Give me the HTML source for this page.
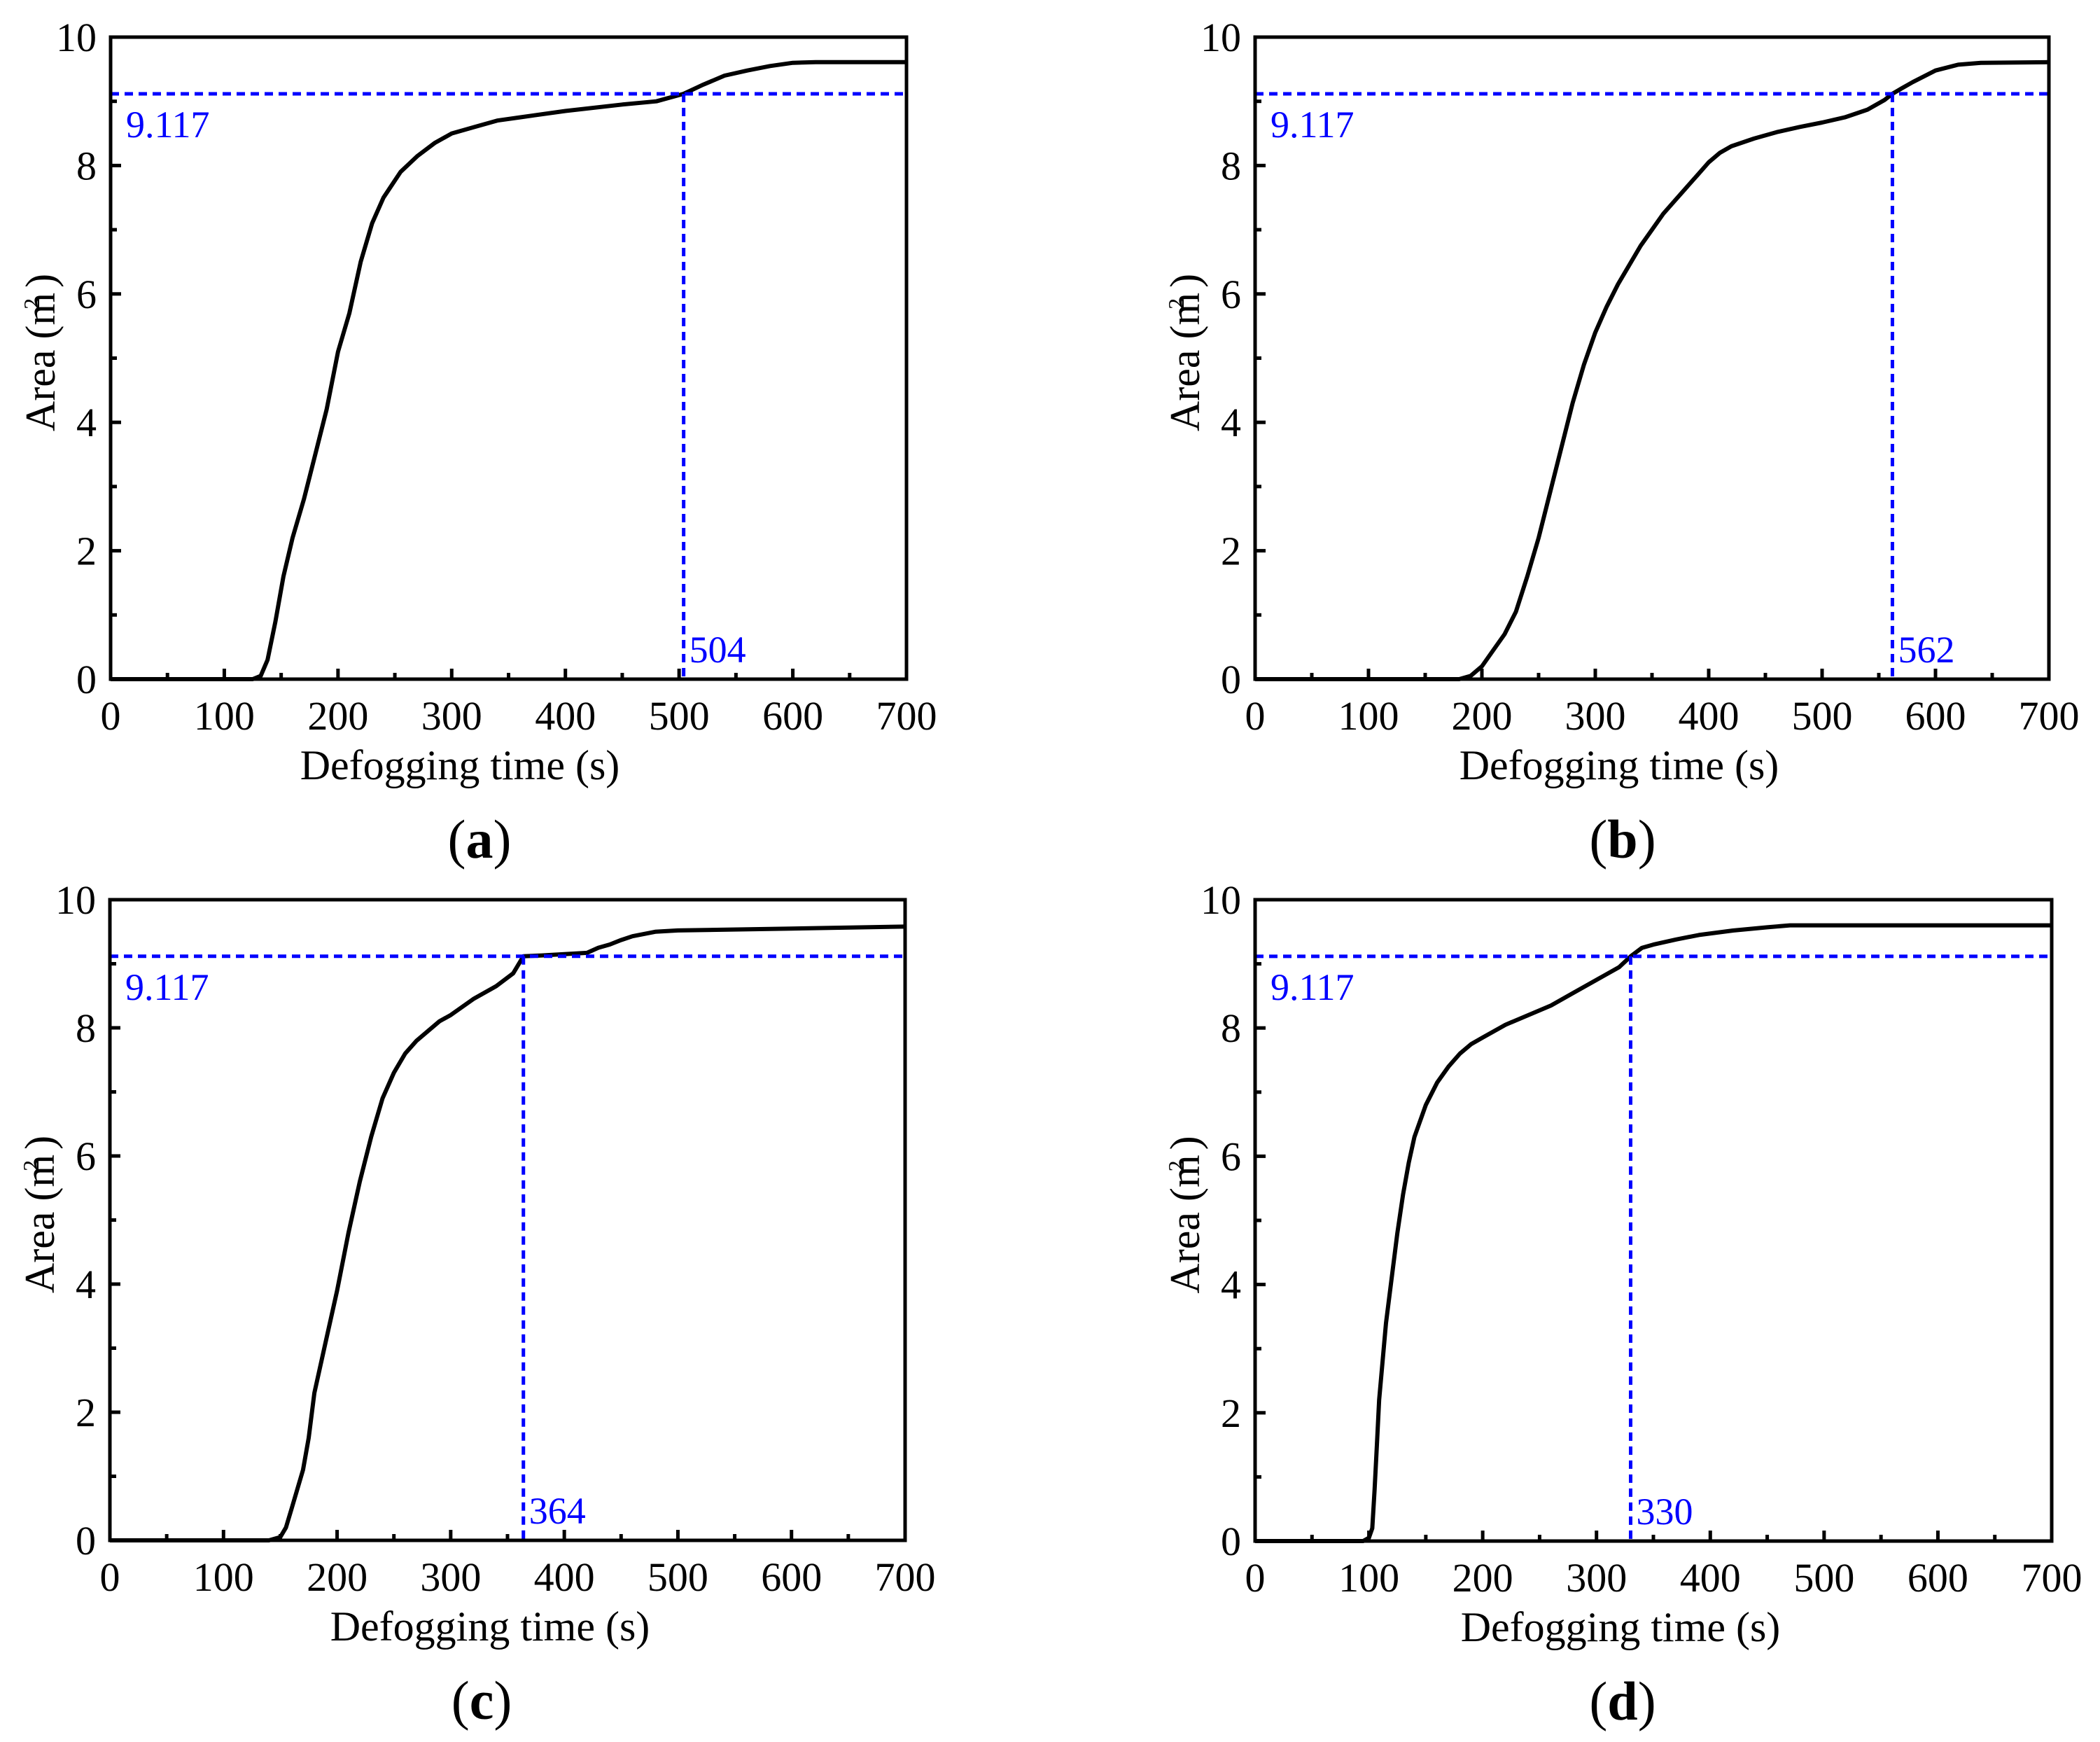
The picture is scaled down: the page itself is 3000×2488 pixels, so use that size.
<!DOCTYPE html>
<html><head><meta charset="utf-8"><style>
html,body{margin:0;padding:0;background:#fff;}
svg{display:block;font-family:"Liberation Serif",serif;}
</style></head><body>
<svg id="fig" width="3000" height="2488" viewBox="0 0 3000 2488" xmlns="http://www.w3.org/2000/svg"></svg>
<script>
const xTicks=[0,100,200,300,400,500,600,700];
const yTicks=[0,2,4,6,8,10];
const threshold=9.117;
const panelLabels=["a","b","c","d"];
const crossTimes=[504,562,364,330];
const timeA=[0,125,132,138,145,152,160,170,180,190,200,210,220,230,240,255,270,285,300,320,340,360,400,450,480,504,520,540,560,580,600,620,700];
const areaA=[0,0,0.05,0.3,0.9,1.6,2.2,2.8,3.5,4.2,5.1,5.7,6.5,7.1,7.5,7.9,8.15,8.35,8.5,8.6,8.7,8.75,8.85,8.95,9.0,9.117,9.25,9.4,9.48,9.55,9.6,9.61,9.61];
const timeB=[0,180,190,200,210,220,230,240,250,260,270,280,290,300,310,320,330,340,350,360,370,380,390,400,410,420,440,460,480,500,520,540,555,562,570,580,600,620,640,700];
const areaB=[0,0,0.05,0.2,0.45,0.7,1.05,1.6,2.2,2.9,3.6,4.3,4.9,5.4,5.8,6.15,6.45,6.75,7.0,7.25,7.45,7.65,7.85,8.05,8.2,8.3,8.42,8.52,8.6,8.67,8.75,8.87,9.02,9.117,9.2,9.3,9.48,9.57,9.6,9.61];
const timeC=[0,140,150,155,160,165,170,175,180,190,200,210,220,230,240,250,260,270,280,290,300,320,340,355,364,380,400,420,430,440,450,460,480,500,600,700];
const areaC=[0,0,0.05,0.2,0.5,0.8,1.1,1.6,2.3,3.1,3.9,4.8,5.6,6.3,6.9,7.3,7.6,7.8,7.95,8.1,8.2,8.45,8.65,8.85,9.117,9.13,9.15,9.17,9.25,9.3,9.37,9.43,9.5,9.52,9.55,9.58];
const timeD=[0,95,100,103,105,107,109,112,115,120,125,130,135,140,150,160,170,180,190,200,220,240,260,280,300,320,330,340,350,370,390,420,450,470,700];
const areaD=[0,0,0.05,0.2,0.8,1.5,2.2,2.8,3.4,4.1,4.8,5.4,5.9,6.3,6.8,7.15,7.4,7.6,7.75,7.85,8.05,8.2,8.35,8.55,8.75,8.95,9.117,9.25,9.3,9.38,9.45,9.52,9.57,9.6,9.6];
const series=[[timeA,areaA],[timeB,areaB],[timeC,areaC],[timeD,areaD]];
const boxes=[[158,1295,53,970],[1793,2927,53,970],[157,1293,1285,2200],[1793,2931,1285,2201]];
const titleCx=[657,2313,700,2315];
const labelCx=[685,2318,688,2318];
const NS="http://www.w3.org/2000/svg";
const svg=document.getElementById("fig");
function mk(tag,attrs,parent){const e=document.createElementNS(NS,tag);for(const k in attrs)e.setAttribute(k,attrs[k]);(parent||svg).appendChild(e);return e;}
series.forEach((s,i)=>{
  const [L,R,T,B]=boxes[i];
  const X=v=>L+(v-0)/700*(R-L);
  const Y=v=>B-(v-0)/10*(B-T);
  const g=mk("g",{});
  
  
  let d=s[0].map((t,j)=>(j?"L":"M")+X(t).toFixed(1)+","+Y(s[1][j]).toFixed(1)).join(" ");
  const p=mk("path",{d:d,fill:"none",stroke:"#000","stroke-width":6,"stroke-linejoin":"round"},g);
  
  
  const h=mk("line",{x1:L,x2:R,y1:Y(threshold),y2:Y(threshold),stroke:"#0000ff","stroke-width":5,"stroke-dasharray":"12 8"},g);
  
  
  const v=mk("line",{x1:X(crossTimes[i]),x2:X(crossTimes[i]),y1:Y(threshold),y2:B,stroke:"#0000ff","stroke-width":5,"stroke-dasharray":"12 8"},g);
  
  
  const tl=mk("text",{x:L+22,y:Y(threshold)+62,fill:"#0000ff","font-size":54},g);tl.textContent=threshold.toFixed(3);
  
  
  const cl=mk("text",{x:X(crossTimes[i])+8,y:B-24,fill:"#0000ff","font-size":54},g);cl.textContent=String(crossTimes[i]);
  
  
  for(let t=0;t<=700;t+=50){const len=t%100===0?15:9;mk("line",{x1:X(t),x2:X(t),y1:B,y2:B-len,stroke:"#000","stroke-width":5},g);}
  for(let t=0;t<=10;t+=1){const len=t%2===0?15:9;mk("line",{x1:L,x2:L+len,y1:Y(t),y2:Y(t),stroke:"#000","stroke-width":5},g);}
  xTicks.forEach(t=>{const e=mk("text",{x:X(t),y:B+72,"text-anchor":"middle","font-size":58},g);e.textContent=t;
    
    });
  yTicks.forEach(t=>{const e=mk("text",{x:L-20,y:Y(t)+20,"text-anchor":"end","font-size":58},g);e.textContent=t;
    
    });
  const fr=mk("rect",{x:L,y:T,width:R-L,height:B-T,fill:"none",stroke:"#000","stroke-width":5},g);
  
  
  const xt=mk("text",{x:titleCx[i],y:B+143,"text-anchor":"middle","font-size":60},g);xt.textContent="Defogging time (s)";
  
  
  const cy=(T+B)/2-8, cx=L-80;
  const yt=mk("text",{x:cx,y:cy,"text-anchor":"middle","font-size":60,transform:`rotate(-90 ${cx} ${cy})`},g);
  yt.innerHTML='Area (m<tspan dy="-22" dx="-24" font-size="32">2</tspan><tspan dy="22"> )</tspan>';
  
  
  const pl=mk("text",{x:labelCx[i],y:B+255,"text-anchor":"middle","font-size":78},g);
  pl.innerHTML='(<tspan font-weight="bold">'+panelLabels[i]+'</tspan>)';
  
  
});
</script>
</body></html>
